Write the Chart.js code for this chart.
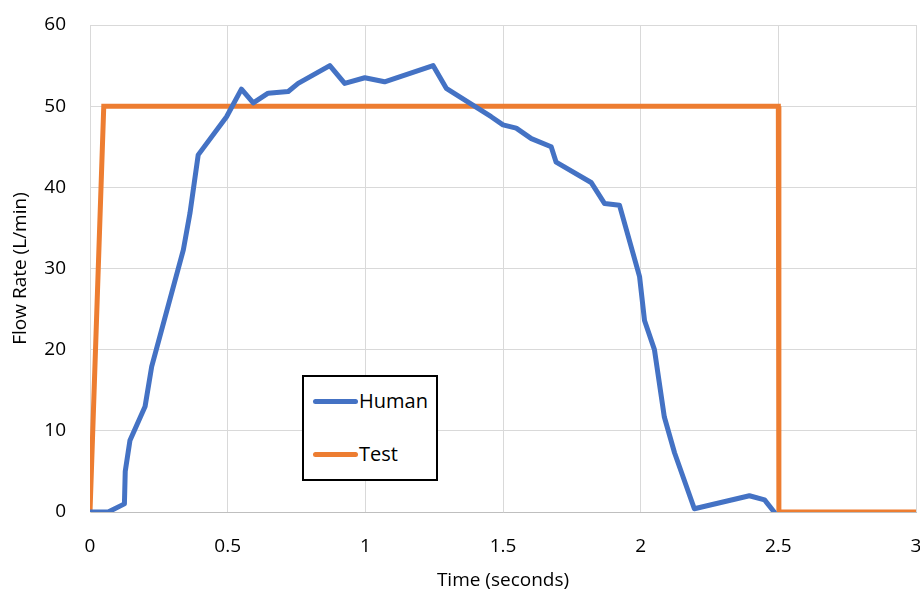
<!DOCTYPE html>
<html>
<head>
<meta charset="utf-8">
<script src="https://cdn.jsdelivr.net/npm/chart.js@4/dist/chart.umd.min.js"></script>
<style>
  body { margin: 0; background: #fff; }
  #wrap { position: relative; width: 920px; height: 592px; }
  #legend {
    position: absolute; left: 302px; top: 375px; width: 132px; height: 102px;
    border: 2px solid #000; background: #fff; font: 20px "Open Sans", sans-serif; color: #000;
  }
  .item { position: absolute; left: 9px; display: flex; align-items: center; line-height: 24px; }
  .swatch { width: 45px; height: 5px; border-radius: 3px; margin-right: 1px; }
</style>
</head>
<body>
<div id="wrap">
  <canvas id="chart" width="920" height="592"></canvas>
  <div id="legend"></div>
</div>
<script>
// data
const humanTime = [0, 0.066, 0.125, 0.128, 0.145, 0.2, 0.224, 0.339, 0.363, 0.393, 0.496, 0.55, 0.593, 0.647, 0.72, 0.756, 0.871, 0.925, 0.998, 1.07, 1.246, 1.294, 1.457, 1.5, 1.548, 1.603, 1.675, 1.693, 1.82, 1.869, 1.923, 1.996, 2.014, 2.05, 2.086, 2.123, 2.195, 2.395, 2.45, 2.485];
const humanFlow = [0, 0, 1, 5, 8.8, 13, 17.9, 32.3, 36.8, 44, 48.7, 52.1, 50.4, 51.6, 51.8, 52.8, 55, 52.8, 53.5, 53, 55, 52.2, 48.7, 47.7, 47.3, 46, 45, 43.1, 40.6, 38, 37.8, 29, 23.6, 20, 11.7, 7.3, 0.4, 2.0, 1.5, 0];
const testTime = [0, 0.05, 2.5, 2.502, 3];
const testFlow = [0, 50, 50, 0, 0];
const seriesNames = ["Human", "Test"];
const seriesColors = ["#4472C4", "#ED7D31"];

const toPoints = (xs, ys) => xs.map((x, i) => ({ x: x, y: ys[i] }));

const FONT = "'Open Sans', sans-serif";
const TICK_SIZE = 19;
const TITLE_SIZE = 19;

const chart = new Chart(document.getElementById("chart"), {
  type: "line",
  data: {
    datasets: [
      {
        label: seriesNames[0],
        data: toPoints(humanTime, humanFlow),
        borderColor: seriesColors[0],
        borderWidth: 5,
        borderCapStyle: "round",
        borderJoinStyle: "round",
        pointRadius: 0,
        tension: 0,
      },
      {
        label: seriesNames[1],
        data: toPoints(testTime, testFlow),
        borderColor: seriesColors[1],
        borderWidth: 5,
        borderJoinStyle: "miter",
        pointRadius: 0,
        tension: 0,
      },
    ],
  },
  options: {
    responsive: false,
    animation: false,
    devicePixelRatio: 1,
    layout: { padding: { top: 25, right: 4, left: 0, bottom: 0 } },
    plugins: { legend: { display: false }, tooltip: { enabled: false } },
    scales: {
      x: {
        type: "linear",
        min: 0,
        max: 3,
        ticks: {
          stepSize: 0.5,
          color: "#000",
          padding: 23,
          font: { family: FONT, size: TICK_SIZE },
          callback: (v) => String(Number(v)),
        },
        grid: { color: "#d9d9d9", drawTicks: false },
        border: { color: "#bfbfbf", width: 1 },
        title: { display: true, text: "Time (seconds)", color: "#000", font: { family: FONT, size: TITLE_SIZE }, padding: { top: 0, bottom: 0 } },
        afterFit: (s) => { s.height = 80; s.paddingLeft = 0; s.paddingRight = 0; },
      },
      y: {
        min: 0,
        max: 60,
        ticks: { stepSize: 10, color: "#000", padding: 24, font: { family: FONT, size: TICK_SIZE } },
        grid: { color: "#d9d9d9", drawTicks: false },
        border: { color: "#d9d9d9", width: 1 },
        title: { display: true, text: "Flow Rate (L/min)", color: "#000", font: { family: FONT, size: TITLE_SIZE }, padding: { top: 9, bottom: 0 } },
        afterFit: (s) => { s.width = 90; s.paddingTop = 0; s.paddingBottom = 0; },
      },
    },
  },
});

// legend box inside the plot, like the original
const legendEl = document.getElementById("legend");
chart.data.datasets.forEach((ds, i) => {
  const item = document.createElement("div");
  item.className = "item";
  item.style.top = (i === 0 ? 12 : 65) + "px";
  item.innerHTML = `<span class="swatch" style="background:${ds.borderColor}"></span>${ds.label}`;
  legendEl.appendChild(item);
});
</script>
</body>
</html>
